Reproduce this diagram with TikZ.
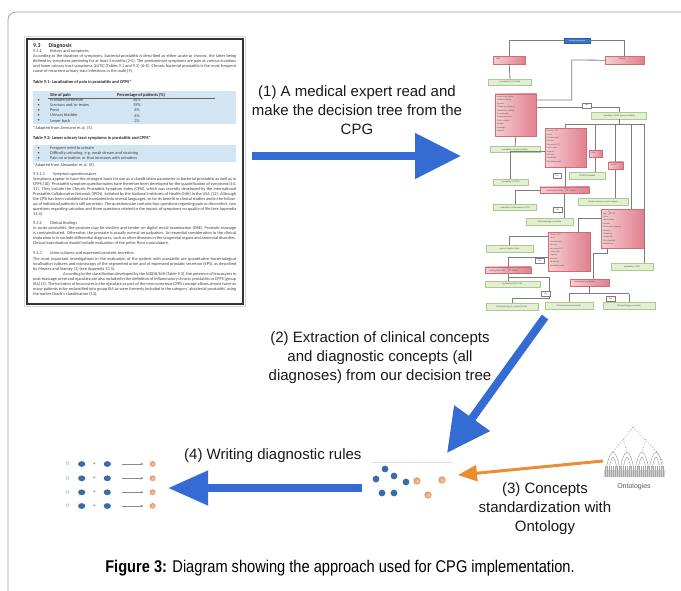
\documentclass[tikz,border=0pt]{standalone}
\usepackage{fontspec}
\setmainfont{Liberation Sans}
\newfontfamily\carlito{Carlito}
\newfontfamily\capfont[FakeStretch=0.86]{Liberation Sans}
\usetikzlibrary{arrows.meta,calc}
\definecolor{blueA}{RGB}{52,108,212}
\definecolor{orangeA}{RGB}{234,142,52}
\definecolor{dotblue}{RGB}{58,108,165}
\definecolor{dotorL}{RGB}{246,200,160}
\definecolor{dotorD}{RGB}{228,150,110}
\definecolor{redL}{RGB}{246,206,210}
\definecolor{redR}{RGB}{224,128,142}
\definecolor{redline}{RGB}{208,108,120}
\definecolor{greenF}{RGB}{226,239,211}
\definecolor{greenline}{RGB}{172,202,142}
\definecolor{treegray}{RGB}{125,125,125}
\definecolor{tblue}{RGB}{211,229,242}
\definecolor{topblue}{RGB}{58,116,200}
\definecolor{framegray}{RGB}{160,160,160}
\newcommand\dsz{\fontsize{4.3}{5.0}\selectfont}
\newcommand\tsz{\fontsize{2}{3.4}\selectfont}
\tikzset{
  docpar/.style={anchor=north west, inner sep=0pt, text width=203pt, align=justify, font=\carlito\dsz, text=black!75},
  docline/.style={anchor=west, inner sep=0pt, font=\carlito\dsz, text=black!75},
  dochead/.style={anchor=west, inner sep=0pt, font=\carlito\bfseries\fontsize{4.4}{5}\selectfont, text=black!85},
  rbox/.style={draw=redline, line width=0.4pt, left color=redL, right color=redR, inner sep=0pt},
  gbox/.style={draw=greenline, line width=0.5pt, fill=greenF, inner sep=0pt, font=\tsz, text=black!70},
  ybox/.style={draw=treegray, line width=0.4pt, fill=white, inner sep=0pt, minimum width=8.5pt, minimum height=5pt, font=\fontsize{2.2}{3}\selectfont, text=black!70},
  rtext/.style={anchor=north west, inner sep=0pt, align=left, font=\tsz, text=black!70},
  tl/.style={draw=treegray, line width=0.8pt},
  lbl/.style={inner sep=0pt, align=center, font=\fontsize{15}{19}\selectfont, text=black!90},
  bigarrow/.style={draw=blueA, line width=8pt},
  bdot/.style={fill=dotblue},
  odot/.style={inner color=dotorL, outer color=dotorD},
}
\begin{document}
\begin{tikzpicture}[x=1pt,y=-1pt]
\useasboundingbox (0,0) rectangle (681,590);
% frame
\draw[framegray, line width=0.8pt, rounded corners=8pt] (8,592) -- (8,12) -- (683,12);

% ---------------- document image ----------------
\draw[black!15, line width=1.2pt] (24.5,36.5) rectangle (245.5,306.5);
\draw[black!80, line width=1.7pt] (27,39) rectangle (243,304);
\node[dochead, font=\carlito\bfseries\fontsize{5.8}{6}\selectfont] (h93) at (33,46) {9.3\hspace{8pt}Diagnosis};
\node[docline] (h931) at (33,51.3) {9.3.1\hspace{8pt}History and symptoms};
\node[docpar] (p1) at (33,54.4) {According to the duration of symptoms, bacterial prostatitis is described as either acute or chronic, the latter being defined by symptoms persisting for at least 3 months (2-5). The predominant symptoms are pain at various locations and lower urinary tract symptoms (LUTS) (Tables 9.1 and 9.2) (6-8). Chronic bacterial prostatitis is the most frequent cause of recurrent urinary tract infections in the male (9).};
\node[dochead] (t91) at (33,82) {Table 9.1: Localization of pain in prostatitis and CPPS*};
\fill[tblue] (33,91) rectangle (236,124);
\draw[black!60, line width=0.3pt] (48,98.6) -- (215,98.6);
\node[dochead] (th1) at (50,95.5) {Site of pain};
\node[dochead] (th2) at (117,95.5) {Percentage of patients (\%)};
\foreach \yy/\aa/\bb in {100.5/Prostate\slash perineum/46\%, 105.5/Scrotum and\slash or testes/39\%, 110.5/Penis/6\%, 115.7/Urinary bladder/6\%, 121/Lower back/2\%}{
  \node[docline] at (37.5,\yy) {\textbullet};
  \node[docline] at (50,\yy) {\aa};
  \node[docline, anchor=center] at (137,\yy) {\bb};
}
\node[docline] (f91) at (33,128.3) {*Adapted from Zermann et al. (5).};
\node[dochead] (t92) at (33,138.3) {Table 9.2: Lower urinary tract symptoms in prostatitis and CPPS*};
\fill[tblue] (33,145) rectangle (236,162.3);
\foreach \yy/\aa in {148.3/Frequent need to urinate, 153.7/{Difficulty urinating, e.g. weak stream and straining}, 158.7/{Pain on urination, or that increases with urination}}{
  \node[docline] at (37.5,\yy) {\textbullet};
  \node[docline] at (50,\yy) {\aa};
}
\node[docline] (f92) at (33,165.3) {*Adapted from Alexander et al. (8).};
\node[docline] (h9311) at (33,174.3) {9.3.1.1\hspace{8pt}Symptom questionnaires};
\node[docpar] (p2) at (33,177.2) {Symptoms appear to have the strongest basis for use as a classification parameter in bacterial prostatitis as well as in CPPS (10). Prostatitis symptom questionnaires have therefore been developed for the quantification of symptoms (10, 11). They include the Chronic Prostatitis Symptom Index (CPSI), which was recently developed by the International Prostatitis Collaborative Network (IPCN), initiated by the National Institutes of Health (NIH) in the USA (12). Although the CPSI has been validated and translated into several languages, so far its benefit in clinical studies and in the follow-up of individual patients is still uncertain. The questionnaire contains four questions regarding pain or discomfort, two questions regarding urination and three questions related to the impact of symptoms on quality of life (see Appendix 11.4).};
\node[docline] (h932) at (33,223.3) {9.3.2\hspace{8pt}Clinical findings};
\node[docpar] (p3) at (33,226.6) {In acute prostatitis, the prostate may be swollen and tender on digital rectal examination (DRE). Prostatic massage is contraindicated. Otherwise, the prostate is usually normal on palpation. An essential consideration in the clinical evaluation is to exclude differential diagnoses, such as other diseases in the urogenital organs and anorectal disorders. Clinical examination should include evaluation of the pelvic floor musculature.};
\node[docline] (h933) at (33,253.6) {9.3.3\hspace{8pt}Urine cultures and expressed prostatic secretion};
\node[docpar] (p4) at (33,257) {The most important investigations in the evaluation of the patient with prostatitis are quantitative bacteriological localisation cultures and microscopy of the segmented urine and of expressed prostatic secretion (EPS), as described by Meares and Stamey (1) (see Appendix 13.5).\par\hspace*{30pt}According to the classification developed by the NIDDK/NIH (Table 9.3), the presence of leucocytes in post-massage urine and ejaculate are also included in the definition of inflammatory chronic prostatitis or CPPS (group IIIA) (3). The inclusion of leucocytes in the ejaculate as part of the new consensus CPPS concept allows almost twice as many patients to be reclassified into group IIIA as were formerly included in the category `abacterial prostatitis' using the earlier Drach's classification (13).};

% ---------------- decision tree ----------------
\node[draw=topblue!80!black, fill=topblue, line width=0.4pt, minimum width=26pt, minimum height=5pt, inner sep=0pt, font=\tsz, text=white] (TOP) at (577,40.8) {Urinary symptoms};
\node[rbox, minimum width=31.7pt, minimum height=8pt] (A) at (509.2,60) {};
\node[rtext] (At) at ([shift={(3,2.5)}]A.north west) {Mild};
\node[rbox, minimum width=39pt, minimum height=8.3pt] (B) at (624.5,60.2) {};
\node[rtext] (Bt) at ([shift={(14,2.5)}]B.north west) {Severe};
\node[gbox, minimum width=43.4pt, minimum height=6pt] (G1) at (510,82.3) {probability of UTI (Mild)};
\node[rbox, minimum width=41.7pt, minimum height=42.7pt] (R1) at (515.8,115.3) {};
\node[rtext] (R1t) at ([shift={(2,2)}]R1.north west) {Acute onset, fever\\Irritative voiding\\Dysuria\\Frequency, Urgency\\Obstructive voiding\\Perineal pain\\Suprapubic pain\\Chills, malaise\\Myalgia\\Arthralgia\\Nausea};
\node[gbox, minimum width=55pt, minimum height=6.3pt] (G2) at (619.2,115.8) {probability of ABP (acute prostatitis)};
\node[gbox, minimum width=50pt, minimum height=6pt] (G3) at (515,149.7) {probability of acute prostatitis};
\node[rbox, minimum width=41.7pt, minimum height=38.4pt] (R2) at (565.8,147.5) {};
\node[rtext] (R2t) at ([shift={(2,2)}]R2.north west) {History: UTI\\Fever\\Perineal pain\\Dysuria\\Recurrent UTI\\Pelvic pain\\Urgency\\Nocturia\\Hematuria\\Ejaculatory pain};
\node[rbox, minimum width=13pt, minimum height=7.3pt] (R3) at (595.8,153.7) {};
\node[rtext] (R3t) at ([shift={(2,2)}]R3.north west) {Pain};
\node[rbox, minimum width=15pt, minimum height=7.6pt] (R4) at (615.8,165.5) {};
\node[rtext] (R4t) at ([shift={(2,2)}]R4.north west) {Fever?};
\node[gbox, minimum width=35.7pt, minimum height=6.7pt] (G4) at (587.2,175.7) {UTI/STD probable};
\node[gbox, minimum width=35pt, minimum height=5.7pt] (G5) at (510.8,182.2) {probability of CPPS};
\node[rbox, minimum width=49.3pt, minimum height=6.6pt] (R5) at (564.7,190) {};
\node[rtext] (R5t) at ([shift={(6,2)}]R5.north west) {Leukocytes in urine $>$ 10/hpf};
\node[gbox, minimum width=43.4pt, minimum height=6.4pt] (G6) at (515,207.5) {probability of inflammatory CPPS};
\node[gbox, minimum width=50pt, minimum height=6.7pt] (G7) at (603,201.5) {Prostatic abscess (seek urologist)};
\node[gbox, minimum width=47pt, minimum height=7pt] (G8) at (549.5,222) {Brief pathology of prostate};
\node[rbox, minimum width=43pt, minimum height=39pt] (R6) at (622.5,228.5) {};
\node[rtext] (R6t) at ([shift={(2,2)}]R6.north west) {Age $>$ 50\\Fever\\Urine culture\\Dysuria\\Pelvic pain, urgency\\Nocturia\\Frequency\\Hematuria\\PSA elevated\\Weight loss};
\node[rbox, minimum width=42pt, minimum height=39pt] (R7) at (569,251.5) {};
\node[rtext] (R7t) at ([shift={(2,2)}]R7.north west) {History: UTI\\Fever\\Perineal pain\\Dysuria\\Recurrent UTI\\Pelvic pain\\Urgency\\Nocturia\\Hematuria\\Ejaculatory pain};
\node[gbox, minimum width=47pt, minimum height=7pt] (G9) at (509.5,248.5) {Acute Prostatic Outlet};
\node[gbox, minimum width=42pt, minimum height=7pt] (G10) at (632,267) {probability of CBP};
\node[rbox, minimum width=46pt, minimum height=6.6pt] (R8) at (508,270) {};
\node[rtext] (R8t) at ([shift={(4,2)}]R8.north west) {Leukocytes in EPS $>$ 10/hpf};
\node[gbox, minimum width=55pt, minimum height=6pt] (G11) at (512.5,284) {probability of IIIA / IIIB};
\node[rbox, minimum width=39pt, minimum height=6.7pt] (R9) at (589.5,282.5) {};
\node[rtext] (R9t) at ([shift={(4,2)}]R9.north west) {Leukocytes in ejaculate};
\node[gbox, minimum width=52pt, minimum height=7pt] (G12) at (512,306.5) {Brief pathology of prostate (CPPS)};
\node[gbox, minimum width=48pt, minimum height=7pt] (G13) at (569,306) {Chronic bacterial prostatitis};
\node[gbox, minimum width=52pt, minimum height=7pt] (G14) at (629,306) {Brief pathology of prostate};
% connectors of the tree
\coordinate (c1) at (571.7,60);
\coordinate (c2) at (571.7,100);
\coordinate (bus) at (565.8,124.3);
\coordinate (busR) at (644.7,124.3);
\coordinate (r6top) at (631,124.3);
\coordinate (r7a) at (578,218);
\coordinate (r8b) at (549.7,277);
\coordinate (r8c) at (549.7,298.3);
\coordinate (r9a) at (607,253);
\coordinate (r9b) at (593,253);
\draw[tl] (TOP.west) -| (A.north);
\draw[tl] (TOP.east) -| (B.north);
\draw[tl] (A.south) -- (G1.north);
\draw[tl] (B.west) -- (c1) -- (c2) -- (R1.east |- c2);
\draw[tl] (R1.east |- 0,107.3) -| (G2.north);
\draw[tl] (R1.south) -- (G3.north);
\draw[tl] (G2.south) -- (G2.south |- bus);
\draw[tl] (bus) -- (busR);
\draw[tl] (bus) -- (R2.north);
\draw[tl] (R3.north |- bus) -- (R3.north);
\draw[tl] (R4.north |- bus) -- (R4.north);
\draw[tl] (r6top) -- (r6top |- R6.north);
\draw[tl] (busR) -- (busR |- G10.north);
\draw[tl] (R3.south) -- (R3.south |- G4.north);
\draw[tl] (R4.south) -- (R4.south |- G7.north);
\draw[tl] (R2.west |- 0,151.7) -| (G5.north);
\draw[tl] (R2.south) -- (R2.south |- R5.north);
\draw[tl] (R5.west) -| (G6.north);
\draw[tl] (R5.south) -- (R5.south |- G8.north);
\draw[tl] (R6.west |- r7a) -- (r7a) -- (r7a |- R7.north);
\draw[tl] (R7.west |- 0,236.7) -| (G9.north);
\draw[tl] (R7.west |- 0,257.3) -| (R8.north);
\draw[tl] (R8.south) -- (R8.south |- G11.north);
\draw[tl] (R8.south |- r8b) -- (r8b) -- (r8c) -- (G12.north |- r8c) -- (G12.north);
\draw[tl] (r9a |- R6.south) -- (r9a) -- (r9b) -- (r9b |- R9.north);
\draw[tl] (R9.south) -- (R9.south |- 0,293.5) coordinate (c3);
\draw[tl] (G13.north |- c3) -- (G14.north |- c3);
\draw[tl] (G13.north |- c3) -- (G13.north);
\draw[tl] (G14.north |- c3) -- (G14.north);
\node[ybox] (Y1) at (586.7,105.2) {Yes};
\node[ybox] (Y2) at (557,175.5) {Yes};
\node[ybox] (Y3) at (557.5,209.5) {Yes};
\node[ybox] (Y4) at (539.5,260.5) {Yes};
\node[ybox] (Y5) at (545.5,294) {Yes};
\node[ybox] (Y6) at (610.5,298.5) {Yes};

% ---------------- arrows and labels ----------------
\coordinate (a1s) at (252,156);
\coordinate (a1e) at (461,156);
\draw[bigarrow, -{Triangle[length=46pt,width=44pt]}] (a1s) -- (a1e);
\node[lbl] (L1) at (357,110) {(1) A medical expert read and\\make the decision tree from the\\CPG};

\coordinate (a2s) at (545,317);
\coordinate (a2e) at (447,453);
\draw[bigarrow, -{Triangle[length=43pt,width=42pt]}] (a2s) -- (a2e);
\node[lbl] (L2) at (380,358) {(2) Extraction of clinical concepts\\and diagnostic concepts (all\\diagnoses) from our decision tree};

% concept cluster
\draw[black!12, line width=0.8pt] (372,462.3) -- (452,462.3);
\foreach \px/\py in {385/469, 376/479, 394/476, 406/482, 382/493, 394/493}{
  \fill[bdot] (\px,\py) circle[radius=3.4pt];
}
\foreach \px/\py in {417/481, 442/480, 428/495}{
  \shade[odot] (\px,\py) circle[radius=3.7pt];
}
\coordinate (clu) at (458,475);

% ontology icon
\begin{scope}[black!35, line width=0.5pt]
\draw[dotted, line width=0.8pt] (633,427) -- (613,452);
\draw[dotted, line width=0.8pt] (633,427) -- (657,452);
\draw[dotted, line width=0.8pt] (623,439) -- (627,452);
\draw[dotted, line width=0.8pt] (646,439) -- (642,452);
\draw[dotted, line width=0.8pt] (657,452) -- (663,462);
\foreach \cx in {613,627,642,656}{
  \draw (\cx-7,470) .. controls (\cx-5,458) and (\cx-2,452) .. (\cx,452) .. controls (\cx+2,452) and (\cx+5,458) .. (\cx+7,470);
  \draw (\cx-4,470) .. controls (\cx-3,462) and (\cx-1,457) .. (\cx,457) .. controls (\cx+1,457) and (\cx+3,462) .. (\cx+4,470);
}
\fill[black!18] (604,470) rectangle (665,477);
\foreach \hx in {605,607,...,664}{ \draw[black!35, line width=0.3pt] (\hx,466) -- (\hx,477); }
\end{scope}
\node[inner sep=0pt, font=\fontsize{7}{8}\selectfont, text=black!65] (ONT) at (634,487) {Ontologies};
\coordinate (onto) at (603,461);
\draw[draw=orangeA, line width=3pt, -{Triangle[length=19pt,width=16pt]}] (onto) -- (clu);
\node[lbl] (L3) at (545,509) {(3) Concepts\\standardization with\\Ontology};

\coordinate (a4s) at (362,488);
\coordinate (a4e) at (168,488);
\draw[bigarrow, line width=7.5pt, -{Triangle[length=40pt,width=33pt]}] (a4s) -- (a4e);
\node[lbl, anchor=west] (L4) at (184,456) {(4) Writing diagnostic rules};

% rules
\foreach \ry [count=\k] in {464,478.3,492.3,506}{
  \node[inner sep=0pt, font=\fontsize{5}{5}\selectfont, text=black!45] (if\k) at (67.5,\ry) {If};
  \fill[bdot] (81.7,\ry) ellipse[x radius=3.6pt, y radius=2.9pt];
  \node[inner sep=0pt, font=\fontsize{5}{5}\selectfont\bfseries, text=black!45] (pl\k) at (94.3,\ry) {+};
  \fill[bdot] (107.3,\ry) ellipse[x radius=3.6pt, y radius=2.9pt];
  \coordinate (rs\k) at (121.7,\ry);
  \coordinate (re\k) at (143.5,\ry);
  \draw[black!45, line width=0.5pt, -{Stealth[length=3pt,width=2.6pt]}] (rs\k) -- (re\k);
  \shade[odot] (152.7,\ry) circle[radius=3pt];
}

% caption
\node[inner sep=0pt, font=\capfont\fontsize{17}{20}\selectfont] (CAP) at (340,568) {\textbf{Figure 3:} Diagram showing the approach used for CPG implementation.};
\end{tikzpicture}
\end{document}
